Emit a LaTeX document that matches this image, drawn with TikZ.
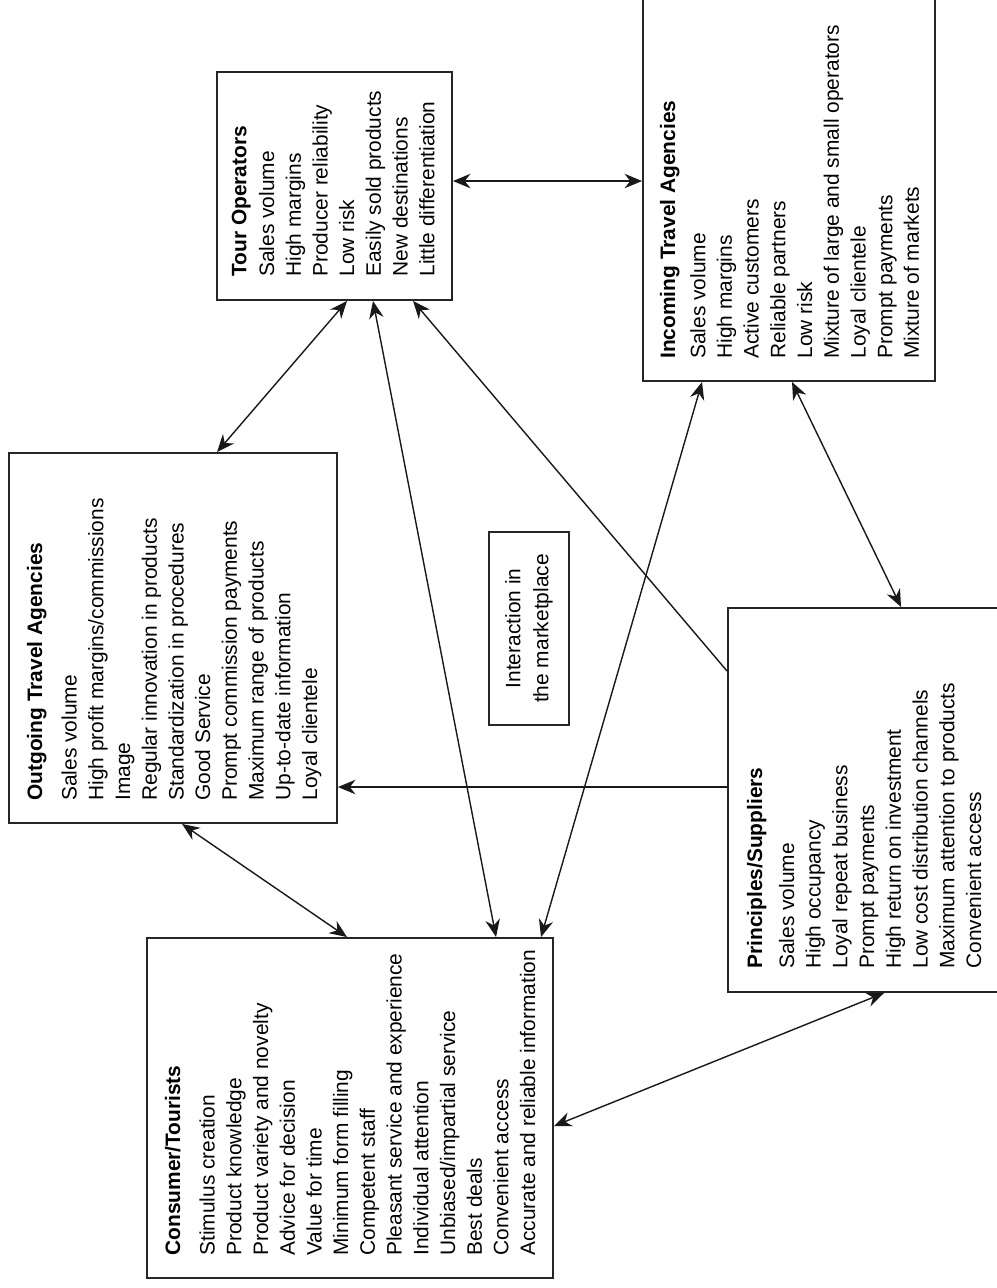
\documentclass[tikz,border=0pt]{standalone}
\usepackage{fontspec}
\setmainfont{Liberation Sans}
\usetikzlibrary{arrows.meta,positioning,calc}
\colorlet{BoxLine}{black!85}
\colorlet{LinkLine}{black!90}

\begin{document}
\begin{tikzpicture}[
  >={Stealth[length=3.5mm,width=2.9mm]},
  actor/.style={rectangle, draw=BoxLine, line width=1.1pt, inner sep=0pt},
  items/.style={rotate=90, anchor=north west, align=left, inner sep=0pt, font=\fontsize{11.9}{15.2}\selectfont},
  link/.style={<->, line width=0.8pt, LinkLine},
  oneway/.style={->, line width=0.8pt, LinkLine}
]
\useasboundingbox (0,0) rectangle (19.92,-25.76);

% Boxes
\node[actor, minimum width=4.70cm, minimum height=4.56cm] (tour) at (6.69,-3.72) {};
\node[actor, minimum width=5.84cm, minimum height=7.70cm] (inc) at (15.78,-3.77) {};
\node[actor, minimum width=6.56cm, minimum height=7.40cm] (out) at (3.46,-12.76) {};
\node[actor, minimum width=8.12cm, minimum height=6.80cm] (cons) at (7.00,-22.16) {};
\node[actor, minimum width=5.60cm, minimum height=7.68cm] (prin) at (17.36,-16.00) {};
\node[actor, line width=0.8pt, rotate=90, align=center, minimum width=3.86cm, minimum height=1.60cm,
      font=\fontsize{11.9}{15.9}\selectfont] (mkt) at (10.58,-12.57) {Interaction in\\the marketplace};

% Tour operators
\node[items] (tourtxt) at ($(tour.south west)+(0.31,0.48)$) {\textbf{Tour Operators}\\[0.5pt]
  Sales volume\\ High margins\\ Producer reliability\\ Low risk\\
  Easily sold products\\ New destinations\\ Little differentiation};

% Incoming travel agencies
\node[items] (inctxt) at ($(inc.south west)+(0.35,0.46)$) {\textbf{Incoming Travel Agencies}\\[2pt]
  Sales volume\\ High margins\\ Active customers\\ Reliable partners\\ Low risk\\
  Mixture of large and small operators\\ Loyal clientele\\ Prompt payments\\ Mixture of markets};

% Outgoing travel agencies
\node[items] (outtxt) at ($(out.south west)+(0.37,0.46)$) {\textbf{Outgoing Travel Agencies}\\[4.5pt]
  Sales volume\\ High profit margins/commissions\\ Image\\ Regular innovation in products\\
  Standardization in procedures\\ Good Service\\ Prompt commission payments\\
  Maximum range of products\\ Up-to-date information\\ Loyal clientele};

% Consumers
\node[items] (constxt) at ($(cons.south west)+(0.37,0.46)$) {\textbf{Consumer/Tourists}\\[4.5pt]
  Stimulus creation\\ Product knowledge\\ Product variety and novelty\\ Advice for decision\\
  Value for time\\ Minimum form filling\\ Competent staff\\ Pleasant service and experience\\
  Individual attention\\ Unbiased/impartial service\\ Best deals\\ Convenient access\\
  Accurate and reliable information};

% Principles
\node[items] (printxt) at ($(prin.south west)+(0.39,0.48)$) {\textbf{Principles/Suppliers}\\[3pt]
  Sales volume\\ High occupancy\\ Loyal repeat business\\ Prompt payments\\
  High return on investment\\ Low cost distribution channels\\
  Maximum attention to products\\ Convenient access};

% Links
\coordinate (tourE) at ($(tour.north east)+(0,-2.2)$);
\coordinate (prinW1) at ($(prin.north west)+(0,-1.28)$);
\coordinate (prinW2) at ($(prin.north west)+(0,-3.60)$);
\coordinate (consE) at ($(cons.north east)+(0,-3.78)$);

\draw[link] (tourE) -- (tourE -| inc.west);
\draw[link] ($(out.north west)+(4.18,0)$) -- ($(tour.south west)+(2.62,0)$);
\draw[link] ($(cons.north west)+(7.00,0)$) -- ($(tour.south west)+(3.14,0)$);
\draw[oneway] (prinW1) -- ($(tour.south west)+(3.94,0)$);
\draw[oneway] (prinW2) -- (prinW2 -| out.east);
\draw[link] ($(out.south west)+(3.48,0)$) -- ($(cons.north west)+(4.02,0)$);
\draw[link] ($(cons.north west)+(7.90,0)$) -- ($(inc.south west)+(1.20,0)$);
\draw[link] ($(inc.south west)+(3.00,0)$) -- ($(prin.north west)+(3.48,0)$);
\draw[link] (consE) -- ($(prin.south west)+(3.14,0)$);

\end{tikzpicture}
\end{document}
